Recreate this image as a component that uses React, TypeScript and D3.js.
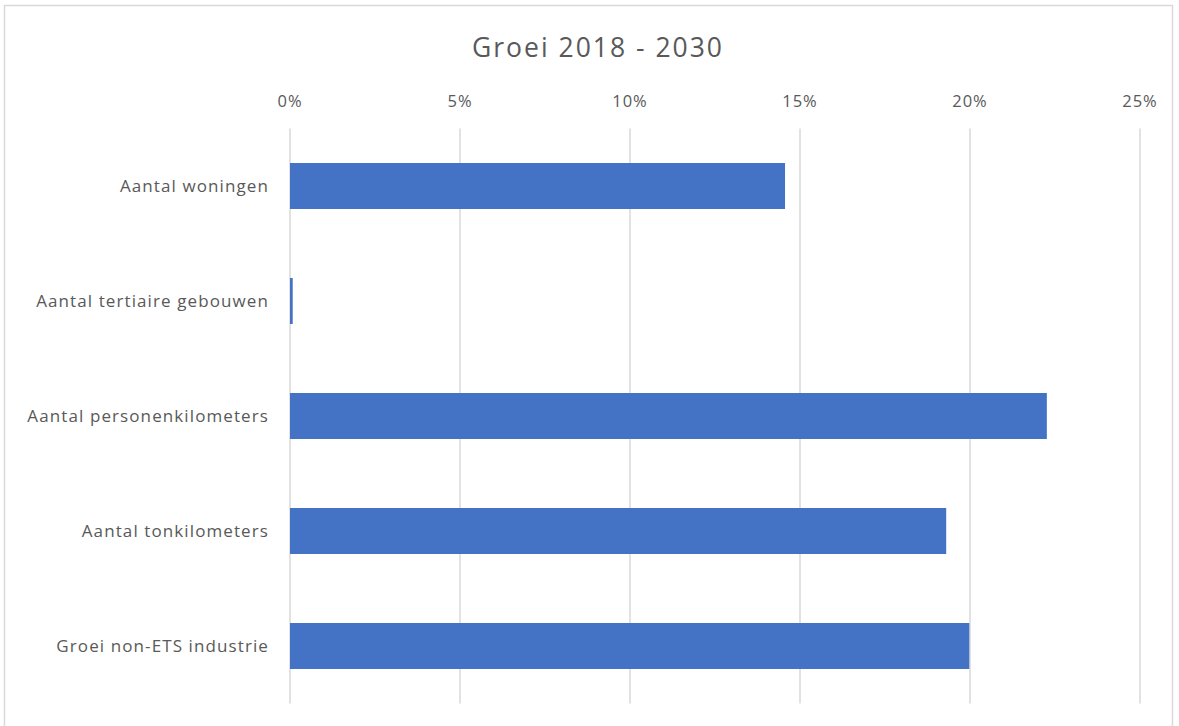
import React from "react";
import * as d3 from "d3";

const categories = [
  "Aantal woningen",
  "Aantal tertiaire gebouwen",
  "Aantal personenkilometers",
  "Aantal tonkilometers",
  "Groei non-ETS industrie",
];
const values = [0.1456, 0.0008, 0.2226, 0.193, 0.1998];
const tickValues = [0, 0.05, 0.1, 0.15, 0.2, 0.25];
const title = "Groei 2018 - 2030";

const W = 1179;
const H = 726;
const FONT = "'Open Sans', 'Noto Sans', sans-serif";
const TEXT = "#595959";

export default function App() {
  const x = d3.scaleLinear().domain([0, 0.25]).range([290, 1140]);
  const y = d3.scaleBand().domain(categories).range([128.5, 703.5]).paddingInner(0.6).paddingOuter(0.3);
  const fmt = d3.format(".0%");
  return (
    <svg width={W} height={H} style={{ position: "absolute", left: 0, top: 0, background: "#fff" }}>
      <rect x={4.5} y={5.5} width={1168} height={730} fill="#fff" stroke="#d9d9d9" strokeWidth={1.5} />
      <text x={598} y={57} textAnchor="middle" fontFamily={FONT} fontSize={26.5} letterSpacing={2} fill={TEXT}>
        {title}
      </text>
      {tickValues.map((t) => (
        <g key={t}>
          <line x1={x(t)} x2={x(t)} y1={128.5} y2={703.5} stroke="#d9d9d9" strokeWidth={1.5} />
          <text x={x(t)} y={107} textAnchor="middle" fontFamily={FONT} fontSize={16.5} letterSpacing={1} fill={TEXT}>
            {fmt(t)}
          </text>
        </g>
      ))}
      {categories.map((c, i) => (
        <g key={c}>
          <rect
            x={x(0)}
            y={y(c)!}
            width={x(values[i]) - x(0)}
            height={y.bandwidth()}
            fill="#4472c4"
          />
          <text
            x={269}
            y={y(c)! + y.bandwidth() / 2}
            dy="0.35em"
            textAnchor="end"
            fontFamily={FONT}
            fontSize={17}
            letterSpacing={1.1}
            fill={TEXT}
          >
            {c}
          </text>
        </g>
      ))}
    </svg>
  );
}
